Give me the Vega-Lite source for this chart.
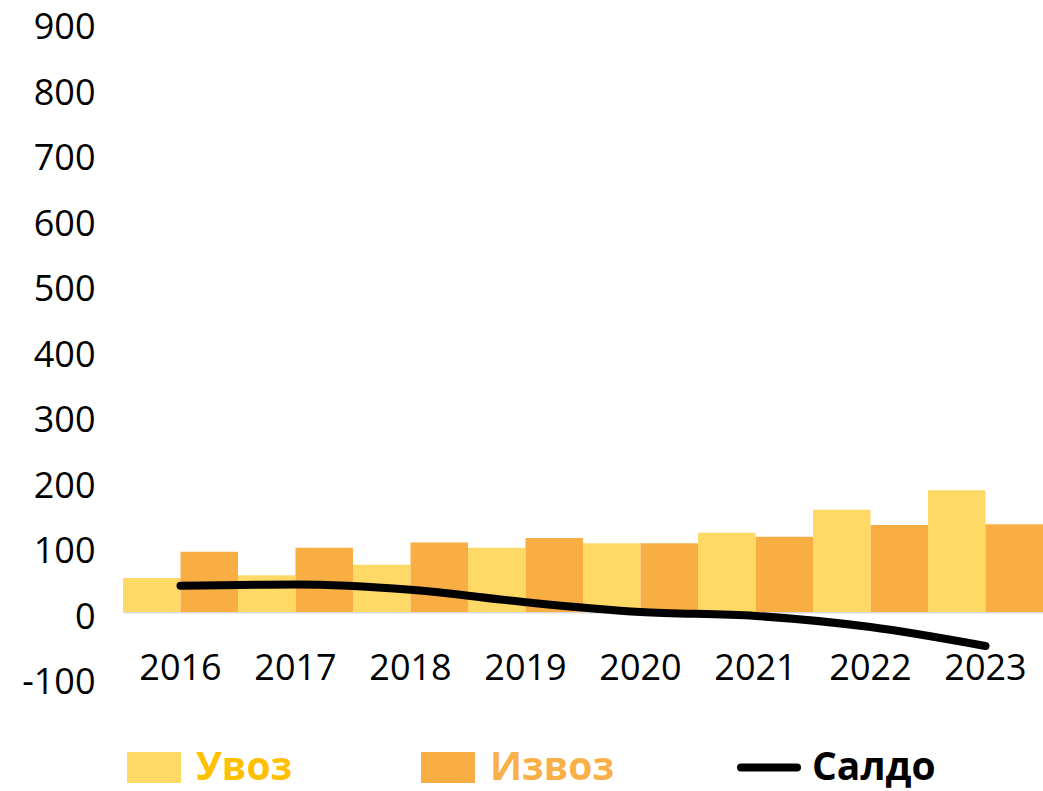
{
  "$schema": "https://vega.github.io/schema/vega-lite/v6.json",
  "width": 920,
  "height": 655,
  "autosize": {"type": "none"},
  "padding": {"left": 123, "top": 22.5, "right": 0, "bottom": 113.5},
  "background": "white",
  "config": {"view": {"stroke": null}, "font": "Open Sans"},
  "data": {
    "values": [
      {"year": "2016", "series": "Увоз", "value": 52},
      {"year": "2016", "series": "Извоз", "value": 92},
      {"year": "2016", "series": "Салдо", "value": 40},
      {"year": "2017", "series": "Увоз", "value": 56},
      {"year": "2017", "series": "Извоз", "value": 98},
      {"year": "2017", "series": "Салдо", "value": 42},
      {"year": "2018", "series": "Увоз", "value": 72},
      {"year": "2018", "series": "Извоз", "value": 106},
      {"year": "2018", "series": "Салдо", "value": 34},
      {"year": "2019", "series": "Увоз", "value": 98},
      {"year": "2019", "series": "Извоз", "value": 113},
      {"year": "2019", "series": "Салдо", "value": 15},
      {"year": "2020", "series": "Увоз", "value": 105},
      {"year": "2020", "series": "Извоз", "value": 105},
      {"year": "2020", "series": "Салдо", "value": 0},
      {"year": "2021", "series": "Увоз", "value": 121},
      {"year": "2021", "series": "Извоз", "value": 115},
      {"year": "2021", "series": "Салдо", "value": -6},
      {"year": "2022", "series": "Увоз", "value": 156},
      {"year": "2022", "series": "Извоз", "value": 133},
      {"year": "2022", "series": "Салдо", "value": -23},
      {"year": "2023", "series": "Увоз", "value": 186},
      {"year": "2023", "series": "Извоз", "value": 134},
      {"year": "2023", "series": "Салдо", "value": -52}
    ]
  },
  "encoding": {
    "x": {
      "field": "year",
      "type": "nominal",
      "scale": {"paddingInner": 0, "paddingOuter": 0},
      "axis": {
        "title": null,
        "orient": "bottom",
        "offset": -65.5,
        "labelAngle": 0,
        "labelFont": "Open Sans",
        "labelFontSize": 36,
        "labelColor": "#000000",
        "labelPadding": 39,
        "ticks": false,
        "domainColor": "#D9D9D9",
        "domainWidth": 2,
        "grid": false
      }
    },
    "y": {
      "field": "value",
      "type": "quantitative",
      "scale": {"domain": [-100, 900], "nice": false, "zero": false},
      "axis": {
        "title": null,
        "values": [-100, 0, 100, 200, 300, 400, 500, 600, 700, 800, 900],
        "labelExpr": "'' + datum.value",
        "labelFont": "Open Sans",
        "labelFontSize": 36,
        "labelColor": "#000000",
        "labelPadding": 28,
        "labelOffset": 5,
        "ticks": false,
        "domain": false,
        "grid": false
      }
    }
  },
  "resolve": {"scale": {"color": "independent"}, "legend": {"color": "independent"}},
  "layer": [
    {
      "transform": [{"filter": "datum.series !== 'Салдо'"}],
      "mark": {"type": "bar", "opacity": 1},
      "encoding": {
        "xOffset": {
          "field": "series",
          "type": "nominal",
          "scale": {"domain": ["Увоз", "Извоз"], "paddingInner": 0, "paddingOuter": 0}
        },
        "color": {
          "field": "series",
          "type": "nominal",
          "scale": {"domain": ["Увоз", "Извоз"], "range": ["#FFD966", "#F9AE44"]},
          "legend": {
            "title": null,
            "orient": "none",
            "legendX": 4,
            "legendY": 718,
            "direction": "horizontal",
            "columns": 2,
            "columnPadding": 128,
            "padding": 0,
            "symbolType": "M-1,-0.574H1V0.574H-1Z",
            "symbolSize": 2916,
            "symbolOpacity": 1,
            "symbolStrokeWidth": 0,
            "labelOffset": 15,
            "labelFont": "Open Sans",
            "labelFontSize": 39,
            "labelFontWeight": "bold",
            "labelLimit": 400,
            "encode": {
              "labels": {
                "update": {
                  "fill": {"signal": "datum.value === 'Увоз' ? '#FFC000' : '#F9B048'"}
                }
              }
            }
          }
        }
      }
    },
    {
      "transform": [{"filter": "datum.series === 'Салдо'"}],
      "mark": {"type": "line", "strokeWidth": 8, "strokeCap": "round", "strokeJoin": "round", "interpolate": "monotone"},
      "encoding": {
        "color": {
          "field": "series",
          "type": "nominal",
          "scale": {"domain": ["Салдо"], "range": ["#000000"]},
          "legend": {
            "title": null,
            "orient": "none",
            "legendX": 614,
            "legendY": 713,
            "padding": 0,
            "symbolType": "stroke",
            "symbolSize": 3136,
            "symbolStrokeWidth": 8,
            "symbolOpacity": 1,
            "labelOffset": 11,
            "labelFont": "Open Sans",
            "labelFontSize": 39,
            "labelFontWeight": "bold",
            "labelColor": "#000000",
            "labelLimit": 400,
            "encode": {
              "symbols": {"update": {"strokeCap": {"value": "round"}}}
            }
          }
        }
      }
    }
  ]
}
